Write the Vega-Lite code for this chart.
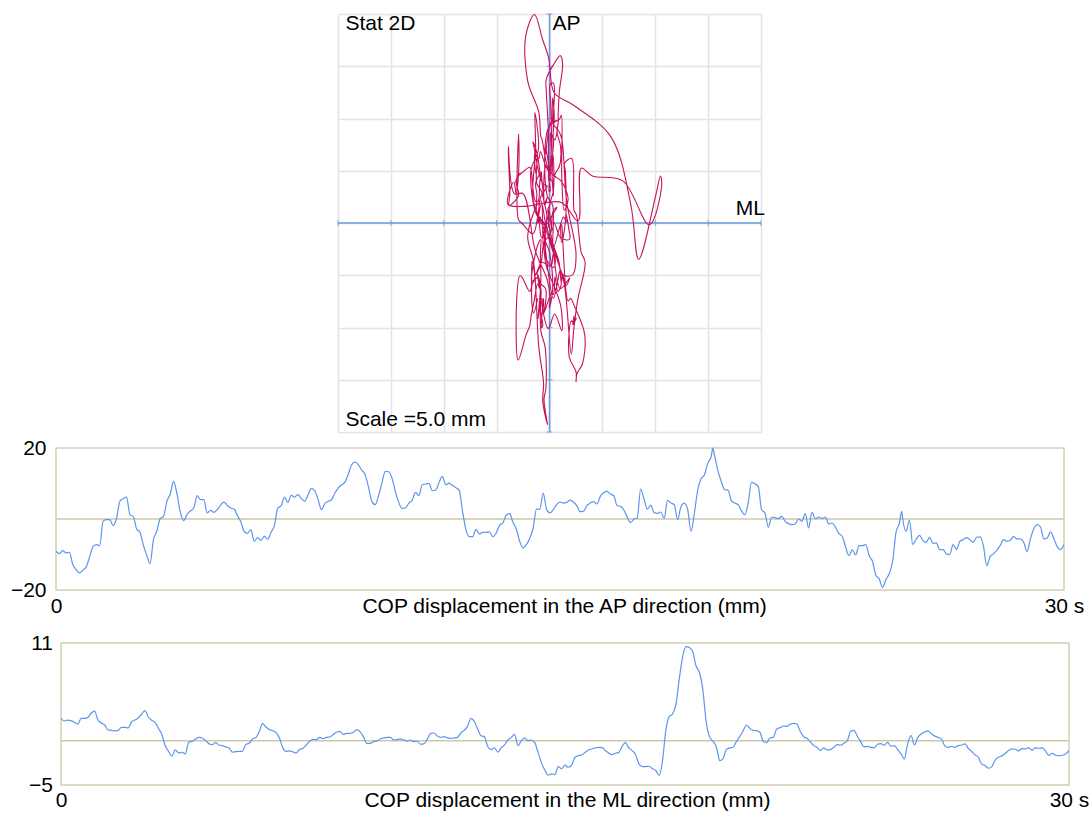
{
  "$schema": "https://vega.github.io/schema/vega-lite/v6.json",
  "padding": {"left": 5, "top": 12, "right": 0, "bottom": 0},
  "background": "white",
  "spacing": 0,
  "config": {
    "view": {"stroke": null},
    "font": "Liberation Sans",
    "axis": {"labelFont": "Liberation Sans", "labelFontSize": 21, "labelColor": "#000000", "titleFont": "Liberation Sans", "titleFontSize": 21, "titleFontWeight": "normal", "titleColor": "#000000"}
  },
  "datasets": {
    "grid": [{"v": -20}, {"v": -15}, {"v": -10}, {"v": -5}, {"v": 0}, {"v": 5}, {"v": 10}, {"v": 15}, {"v": 20}],
    "cop": [
{"t":0.0,"ap":-9.09,"ml":2.55},{"t":0.1,"ap":-9.74,"ml":2.21},{"t":0.2,"ap":-8.90,"ml":2.32},{"t":0.3,"ap":-9.56,"ml":2.25},{"t":0.4,"ap":-9.37,"ml":2.06},{"t":0.5,"ap":-12.83,"ml":1.87},{"t":0.6,"ap":-14.24,"ml":2.51},{"t":0.7,"ap":-15.18,"ml":2.51},{"t":0.8,"ap":-14.43,"ml":2.59},{"t":0.9,"ap":-13.49,"ml":3.11},
{"t":1.0,"ap":-10.68,"ml":3.33},{"t":1.1,"ap":-7.87,"ml":2.32},{"t":1.2,"ap":-7.21,"ml":1.99},{"t":1.3,"ap":-7.49,"ml":1.76},{"t":1.4,"ap":-0.66,"ml":1.20},{"t":1.5,"ap":-0.19,"ml":1.16},{"t":1.6,"ap":-0.19,"ml":1.09},{"t":1.7,"ap":-1.87,"ml":1.16},{"t":1.8,"ap":0.09,"ml":1.50},{"t":1.9,"ap":4.97,"ml":1.50},
{"t":2.0,"ap":5.71,"ml":1.42},{"t":2.1,"ap":6.18,"ml":2.10},{"t":2.2,"ap":1.22,"ml":2.32},{"t":2.3,"ap":0.75,"ml":2.55},{"t":2.4,"ap":-2.81,"ml":3.00},{"t":2.5,"ap":-3.75,"ml":3.37},{"t":2.6,"ap":-7.40,"ml":2.66},{"t":2.7,"ap":-10.21,"ml":2.29},{"t":2.8,"ap":-12.55,"ml":2.06},{"t":2.9,"ap":-5.81,"ml":1.39},
{"t":3.0,"ap":-3.47,"ml":0.71},{"t":3.1,"ap":0.09,"ml":-0.56},{"t":3.2,"ap":0.75,"ml":-1.20},{"t":3.3,"ap":4.97,"ml":-1.76},{"t":3.4,"ap":7.03,"ml":-1.05},{"t":3.5,"ap":10.59,"ml":-1.39},{"t":3.6,"ap":7.12,"ml":-1.31},{"t":3.7,"ap":1.97,"ml":-1.50},{"t":3.8,"ap":-0.47,"ml":-0.19},{"t":3.9,"ap":1.31,"ml":-0.07},
{"t":4.0,"ap":2.25,"ml":0.15},{"t":4.1,"ap":3.09,"ml":0.37},{"t":4.2,"ap":6.56,"ml":0.30},{"t":4.3,"ap":5.43,"ml":0.00},{"t":4.4,"ap":5.43,"ml":-0.34},{"t":4.5,"ap":1.69,"ml":-0.45},{"t":4.6,"ap":2.44,"ml":-0.22},{"t":4.7,"ap":1.87,"ml":-0.49},{"t":4.8,"ap":2.62,"ml":-0.56},{"t":4.9,"ap":3.93,"ml":-0.71},
{"t":5.0,"ap":4.78,"ml":-0.82},{"t":5.1,"ap":3.84,"ml":-1.31},{"t":5.2,"ap":3.09,"ml":-1.24},{"t":5.3,"ap":2.81,"ml":-1.20},{"t":5.4,"ap":0.94,"ml":-1.20},{"t":5.5,"ap":-0.75,"ml":-0.45},{"t":5.6,"ap":-3.47,"ml":-0.30},{"t":5.7,"ap":-4.03,"ml":0.19},{"t":5.8,"ap":-3.00,"ml":0.34},{"t":5.9,"ap":-6.28,"ml":1.01},
{"t":6.0,"ap":-5.25,"ml":1.91},{"t":6.1,"ap":-6.00,"ml":1.54},{"t":6.2,"ap":-4.87,"ml":1.24},{"t":6.3,"ap":-5.71,"ml":1.12},{"t":6.4,"ap":-3.75,"ml":0.90},{"t":6.5,"ap":-1.87,"ml":0.30},{"t":6.6,"ap":3.09,"ml":-0.79},{"t":6.7,"ap":3.75,"ml":-1.20},{"t":6.8,"ap":6.18,"ml":-1.16},{"t":6.9,"ap":4.68,"ml":-1.27},
{"t":7.0,"ap":6.65,"ml":-1.39},{"t":7.1,"ap":6.18,"ml":-1.01},{"t":7.2,"ap":6.84,"ml":-0.86},{"t":7.3,"ap":5.81,"ml":-0.49},{"t":7.4,"ap":4.97,"ml":-0.07},{"t":7.5,"ap":6.74,"ml":0.15},{"t":7.6,"ap":8.62,"ml":0.11},{"t":7.7,"ap":7.96,"ml":0.37},{"t":7.8,"ap":5.53,"ml":0.22},{"t":7.9,"ap":2.62,"ml":0.37},
{"t":8.0,"ap":4.31,"ml":0.41},{"t":8.1,"ap":4.97,"ml":0.67},{"t":8.2,"ap":5.43,"ml":0.94},{"t":8.3,"ap":7.31,"ml":1.05},{"t":8.4,"ap":8.71,"ml":0.71},{"t":8.5,"ap":9.65,"ml":0.82},{"t":8.6,"ap":10.40,"ml":0.82},{"t":8.7,"ap":12.65,"ml":0.94},{"t":8.8,"ap":15.27,"ml":1.24},{"t":8.9,"ap":16.02,"ml":1.01},
{"t":9.0,"ap":15.27,"ml":0.45},{"t":9.1,"ap":13.77,"ml":-0.30},{"t":9.2,"ap":12.55,"ml":-0.30},{"t":9.3,"ap":8.99,"ml":-0.11},{"t":9.4,"ap":4.97,"ml":-0.04},{"t":9.5,"ap":4.03,"ml":0.19},{"t":9.6,"ap":6.56,"ml":0.30},{"t":9.7,"ap":10.12,"ml":0.37},{"t":9.8,"ap":13.40,"ml":0.37},{"t":9.9,"ap":13.30,"ml":0.07},
{"t":10.0,"ap":11.52,"ml":0.11},{"t":10.1,"ap":7.78,"ml":0.19},{"t":10.2,"ap":4.68,"ml":0.07},{"t":10.3,"ap":3.00,"ml":-0.04},{"t":10.4,"ap":3.09,"ml":0.07},{"t":10.5,"ap":4.50,"ml":-0.11},{"t":10.6,"ap":5.25,"ml":-0.07},{"t":10.7,"ap":7.49,"ml":-0.41},{"t":10.8,"ap":6.56,"ml":-0.37},{"t":10.9,"ap":9.65,"ml":0.15},
{"t":11.0,"ap":9.84,"ml":0.82},{"t":11.1,"ap":10.02,"ml":0.86},{"t":11.2,"ap":7.96,"ml":0.52},{"t":11.3,"ap":8.15,"ml":0.37},{"t":11.4,"ap":10.30,"ml":0.45},{"t":11.5,"ap":11.99,"ml":0.30},{"t":11.6,"ap":9.65,"ml":0.26},{"t":11.7,"ap":10.12,"ml":0.30},{"t":11.8,"ap":9.46,"ml":0.37},{"t":11.9,"ap":8.81,"ml":0.86},
{"t":12.0,"ap":8.06,"ml":1.16},{"t":12.1,"ap":2.15,"ml":1.61},{"t":12.2,"ap":-3.00,"ml":2.51},{"t":12.3,"ap":-4.97,"ml":2.17},{"t":12.4,"ap":-4.97,"ml":1.31},{"t":12.5,"ap":-2.90,"ml":0.56},{"t":12.6,"ap":-4.22,"ml":0.45},{"t":12.7,"ap":-3.75,"ml":-0.67},{"t":12.8,"ap":-3.75,"ml":-1.01},{"t":12.9,"ap":-3.65,"ml":-0.82},
{"t":13.0,"ap":-4.97,"ml":-1.31},{"t":13.1,"ap":-3.93,"ml":-0.82},{"t":13.2,"ap":-1.78,"ml":-0.49},{"t":13.3,"ap":-1.12,"ml":0.07},{"t":13.4,"ap":1.12,"ml":0.34},{"t":13.5,"ap":1.50,"ml":0.71},{"t":13.6,"ap":-0.94,"ml":-0.56},{"t":13.7,"ap":-2.81,"ml":0.00},{"t":13.8,"ap":-6.28,"ml":0.30},{"t":13.9,"ap":-8.15,"ml":0.00},
{"t":14.0,"ap":-7.21,"ml":0.07},{"t":14.1,"ap":-5.43,"ml":-0.22},{"t":14.2,"ap":-2.62,"ml":-1.35},{"t":14.3,"ap":2.81,"ml":-2.51},{"t":14.4,"ap":2.81,"ml":-3.33},{"t":14.5,"ap":7.31,"ml":-3.90},{"t":14.6,"ap":2.81,"ml":-3.75},{"t":14.7,"ap":1.69,"ml":-3.82},{"t":14.8,"ap":2.62,"ml":-2.92},{"t":14.9,"ap":4.03,"ml":-3.18},
{"t":15.0,"ap":4.78,"ml":-2.77},{"t":15.1,"ap":4.50,"ml":-3.00},{"t":15.2,"ap":4.68,"ml":-2.74},{"t":15.3,"ap":5.34,"ml":-1.87},{"t":15.4,"ap":4.78,"ml":-1.69},{"t":15.5,"ap":3.75,"ml":-1.61},{"t":15.6,"ap":2.06,"ml":-1.31},{"t":15.7,"ap":2.15,"ml":-1.05},{"t":15.8,"ap":3.75,"ml":-0.94},{"t":15.9,"ap":4.50,"ml":-0.82},
{"t":16.0,"ap":4.87,"ml":-0.75},{"t":16.1,"ap":4.22,"ml":-0.79},{"t":16.2,"ap":6.37,"ml":-1.12},{"t":16.3,"ap":7.40,"ml":-1.39},{"t":16.4,"ap":7.78,"ml":-1.57},{"t":16.5,"ap":7.03,"ml":-1.42},{"t":16.6,"ap":6.56,"ml":-1.35},{"t":16.7,"ap":3.75,"ml":-0.64},{"t":16.8,"ap":3.56,"ml":-0.22},{"t":16.9,"ap":2.53,"ml":-0.82},
{"t":17.0,"ap":0.56,"ml":-1.12},{"t":17.1,"ap":-1.03,"ml":-1.57},{"t":17.2,"ap":0.00,"ml":-2.62},{"t":17.3,"ap":0.28,"ml":-2.92},{"t":17.4,"ap":8.52,"ml":-2.92},{"t":17.5,"ap":5.62,"ml":-2.89},{"t":17.6,"ap":2.81,"ml":-3.15},{"t":17.7,"ap":3.93,"ml":-3.37},{"t":17.8,"ap":1.78,"ml":-3.93},{"t":17.9,"ap":1.59,"ml":-2.32},
{"t":18.0,"ap":1.97,"ml":1.12},{"t":18.1,"ap":0.19,"ml":2.70},{"t":18.2,"ap":5.25,"ml":3.00},{"t":18.3,"ap":4.50,"ml":4.05},{"t":18.4,"ap":4.03,"ml":6.93},{"t":18.5,"ap":-0.19,"ml":9.44},{"t":18.6,"ap":3.47,"ml":10.60},{"t":18.7,"ap":4.50,"ml":10.49},{"t":18.8,"ap":2.62,"ml":10.04},{"t":18.9,"ap":-3.47,"ml":8.43},
{"t":19.0,"ap":1.69,"ml":7.70},{"t":19.1,"ap":8.24,"ml":5.81},{"t":19.2,"ap":11.34,"ml":2.17},{"t":19.3,"ap":12.46,"ml":0.45},{"t":19.4,"ap":15.74,"ml":-0.07},{"t":19.5,"ap":17.61,"ml":-0.67},{"t":19.55,"ap":19.95,"ml":-1.42},{"t":19.6,"ap":17.89,"ml":-2.25},{"t":19.7,"ap":13.58,"ml":-2.06},{"t":19.8,"ap":10.59,"ml":-1.01},{"t":19.9,"ap":8.24,"ml":-0.82},
{"t":20.0,"ap":8.15,"ml":-0.75},{"t":20.1,"ap":5.15,"ml":-0.11},{"t":20.2,"ap":4.50,"ml":0.45},{"t":20.3,"ap":4.03,"ml":1.09},{"t":20.4,"ap":2.34,"ml":1.76},{"t":20.5,"ap":1.22,"ml":1.39},{"t":20.6,"ap":4.50,"ml":1.16},{"t":20.7,"ap":10.30,"ml":1.12},{"t":20.8,"ap":9.93,"ml":0.94},{"t":20.9,"ap":9.18,"ml":-0.07},
{"t":21.0,"ap":2.62,"ml":-0.22},{"t":21.1,"ap":1.69,"ml":0.30},{"t":21.2,"ap":-2.34,"ml":0.37},{"t":21.3,"ap":0.56,"ml":1.31},{"t":21.4,"ap":0.37,"ml":1.46},{"t":21.5,"ap":0.09,"ml":1.65},{"t":21.6,"ap":0.75,"ml":1.61},{"t":21.7,"ap":-0.66,"ml":1.84},{"t":21.8,"ap":-1.31,"ml":1.95},{"t":21.9,"ap":-1.59,"ml":1.87},
{"t":22.0,"ap":-1.41,"ml":1.05},{"t":22.1,"ap":0.00,"ml":0.45},{"t":22.2,"ap":-0.66,"ml":0.26},{"t":22.3,"ap":1.50,"ml":-0.11},{"t":22.4,"ap":-2.53,"ml":-0.56},{"t":22.5,"ap":1.87,"ml":-0.75},{"t":22.6,"ap":0.00,"ml":-1.12},{"t":22.7,"ap":0.56,"ml":-0.82},{"t":22.8,"ap":0.19,"ml":-1.05},{"t":22.9,"ap":0.56,"ml":-1.01},
{"t":23.0,"ap":-1.41,"ml":-0.75},{"t":23.1,"ap":-1.12,"ml":-0.45},{"t":23.2,"ap":-2.34,"ml":-0.52},{"t":23.3,"ap":-4.12,"ml":-0.30},{"t":23.4,"ap":-4.87,"ml":-0.04},{"t":23.5,"ap":-7.87,"ml":1.05},{"t":23.6,"ap":-10.30,"ml":1.16},{"t":23.7,"ap":-8.71,"ml":0.49},{"t":23.8,"ap":-10.12,"ml":-0.11},{"t":23.9,"ap":-7.49,"ml":-0.71},
{"t":24.0,"ap":-7.49,"ml":-0.64},{"t":24.1,"ap":-7.21,"ml":-0.75},{"t":24.2,"ap":-10.30,"ml":-0.82},{"t":24.3,"ap":-11.90,"ml":-0.41},{"t":24.4,"ap":-15.83,"ml":-0.34},{"t":24.5,"ap":-16.86,"ml":-0.52},{"t":24.6,"ap":-19.30,"ml":-0.19},{"t":24.7,"ap":-17.05,"ml":-0.64},{"t":24.8,"ap":-15.36,"ml":-0.56},{"t":24.9,"ap":-11.90,"ml":-1.01},
{"t":25.0,"ap":-3.75,"ml":-1.50},{"t":25.1,"ap":-1.22,"ml":-2.06},{"t":25.17,"ap":2.15,"ml":-0.86},{"t":25.2,"ap":0.00,"ml":-0.37},{"t":25.3,"ap":-3.47,"ml":0.56},{"t":25.4,"ap":-0.37,"ml":-0.49},{"t":25.5,"ap":-7.21,"ml":0.37},{"t":25.6,"ap":-5.71,"ml":0.75},{"t":25.7,"ap":-4.59,"ml":0.97},{"t":25.8,"ap":-6.00,"ml":1.09},{"t":25.9,"ap":-6.56,"ml":0.79},
{"t":26.0,"ap":-5.15,"ml":0.52},{"t":26.1,"ap":-6.84,"ml":0.37},{"t":26.2,"ap":-6.74,"ml":0.19},{"t":26.3,"ap":-8.62,"ml":-0.56},{"t":26.4,"ap":-8.62,"ml":-0.75},{"t":26.5,"ap":-9.84,"ml":-0.64},{"t":26.6,"ap":-10.02,"ml":-0.75},{"t":26.7,"ap":-7.21,"ml":-0.56},{"t":26.8,"ap":-8.62,"ml":-0.52},{"t":26.9,"ap":-6.28,"ml":-0.37},
{"t":27.0,"ap":-5.81,"ml":-0.86},{"t":27.1,"ap":-5.25,"ml":-1.20},{"t":27.2,"ap":-5.81,"ml":-1.61},{"t":27.3,"ap":-6.56,"ml":-1.87},{"t":27.4,"ap":-5.15,"ml":-2.62},{"t":27.5,"ap":-5.06,"ml":-2.81},{"t":27.6,"ap":-7.49,"ml":-3.11},{"t":27.7,"ap":-13.12,"ml":-2.96},{"t":27.8,"ap":-10.68,"ml":-2.21},{"t":27.9,"ap":-9.84,"ml":-1.87},
{"t":28.0,"ap":-8.81,"ml":-1.72},{"t":28.1,"ap":-7.49,"ml":-1.46},{"t":28.2,"ap":-5.81,"ml":-1.12},{"t":28.3,"ap":-6.28,"ml":-0.94},{"t":28.4,"ap":-6.00,"ml":-0.97},{"t":28.5,"ap":-4.87,"ml":-1.16},{"t":28.6,"ap":-5.62,"ml":-0.90},{"t":28.7,"ap":-5.62,"ml":-0.94},{"t":28.8,"ap":-6.56,"ml":-0.79},{"t":28.9,"ap":-9.18,"ml":-1.09},
{"t":29.0,"ap":-5.62,"ml":-0.82},{"t":29.1,"ap":-2.81,"ml":-0.86},{"t":29.2,"ap":-1.59,"ml":-0.82},{"t":29.3,"ap":-2.25,"ml":-1.16},{"t":29.4,"ap":-5.62,"ml":-1.69},{"t":29.5,"ap":-5.34,"ml":-1.42},{"t":29.6,"ap":-3.65,"ml":-1.65},{"t":29.7,"ap":-5.53,"ml":-1.69},{"t":29.8,"ap":-7.87,"ml":-1.65},{"t":29.9,"ap":-8.62,"ml":-1.50},
{"t":30.0,"ap":-7.21,"ml":-1.12}
    ]
  },
  "vconcat": [
    {"spacing": 0, "hconcat": [
    {"width": 332, "height": 1, "data": {"values": [{}]}, "mark": {"type": "rect", "opacity": 0}},
    {
      "width": 423,
      "height": 418,
      "layer": [
        {
          "data": {"values": [{}]},
          "mark": {"type": "rule", "color": "#6b9ad8", "strokeWidth": 1.5},
          "encoding": {"y": {"datum": 0, "type": "quantitative", "scale": {"domain": [-20, 20], "nice": false, "zero": false}, "axis": {"values": [-20, -15, -10, -5, 0, 5, 10, 15, 20], "grid": true, "gridColor": "#e3e3e3", "gridWidth": 1.5, "labels": false, "ticks": false, "domain": false, "title": null, "minExtent": 0, "maxExtent": 0}}}
        },
        {
          "data": {"values": [{}]},
          "mark": {"type": "rule", "color": "#6b9ad8", "strokeWidth": 1.5},
          "encoding": {"x": {"datum": 0, "type": "quantitative", "scale": {"domain": [-20, 20], "nice": false, "zero": false}, "axis": {"values": [-20, -15, -10, -5, 0, 5, 10, 15, 20], "grid": true, "gridColor": "#e3e3e3", "gridWidth": 1.5, "labels": false, "ticks": false, "domain": false, "title": null, "minExtent": 4, "maxExtent": 4}}}
        },
        {
          "data": {"name": "grid"},
          "mark": {"type": "tick", "orient": "vertical", "size": 6, "thickness": 1.2, "color": "#6b9ad8"},
          "encoding": {"x": {"field": "v", "type": "quantitative"}, "y": {"datum": 0, "type": "quantitative"}}
        },
        {
          "data": {"name": "grid"},
          "mark": {"type": "tick", "orient": "horizontal", "size": 6, "thickness": 1.2, "color": "#6b9ad8"},
          "encoding": {"y": {"field": "v", "type": "quantitative"}, "x": {"datum": 0, "type": "quantitative"}}
        },
        {
          "data": {"name": "cop"},
          "mark": {"type": "line", "color": "#c8105c", "strokeWidth": 1.1, "interpolate": "catmull-rom", "clip": true},
          "encoding": {
            "x": {"field": "ml", "type": "quantitative"},
            "y": {"field": "ap", "type": "quantitative"},
            "order": {"field": "t", "type": "quantitative"}
          }
        },
        {
          "data": {"values": [{}]},
          "mark": {"type": "text", "text": "Stat 2D", "align": "left", "baseline": "alphabetic", "fontSize": 21, "font": "Liberation Sans", "color": "#000000"},
          "encoding": {"x": {"datum": -19.3, "type": "quantitative"}, "y": {"datum": 18.5, "type": "quantitative"}}
        },
        {
          "data": {"values": [{}]},
          "mark": {"type": "text", "text": "AP", "align": "left", "baseline": "alphabetic", "dx": 3, "fontSize": 21, "font": "Liberation Sans", "color": "#000000"},
          "encoding": {"x": {"datum": 0, "type": "quantitative"}, "y": {"datum": 18.45, "type": "quantitative"}}
        },
        {
          "data": {"values": [{}]},
          "mark": {"type": "text", "text": "ML", "align": "right", "baseline": "alphabetic", "dx": 4, "fontSize": 21, "font": "Liberation Sans", "color": "#000000"},
          "encoding": {"x": {"datum": 20, "type": "quantitative"}, "y": {"datum": 0.75, "type": "quantitative"}}
        },
        {
          "data": {"values": [{}]},
          "mark": {"type": "text", "text": "Scale =5.0 mm", "align": "left", "baseline": "alphabetic", "fontSize": 21, "font": "Liberation Sans", "color": "#000000"},
          "encoding": {"x": {"datum": -19.3, "type": "quantitative"}, "y": {"datum": -19.4, "type": "quantitative"}}
        }
      ]
    }]},
    {"spacing": 0, "hconcat": [
    {"width": 1, "height": 1, "data": {"values": [{}]}, "mark": {"type": "rect", "opacity": 0}},
    {
      "width": 1008,
      "height": 142,
      "view": {"stroke": "#d3cfb3", "strokeWidth": 1.5},
      "layer": [
        {
          "data": {"values": [{}]},
          "mark": {"type": "rule", "color": "#cdc9a8", "strokeWidth": 1.5},
          "encoding": {"y": {"datum": 0, "type": "quantitative"}}
        },
        {
          "data": {"name": "cop"},
          "mark": {"type": "line", "color": "#5d95ee", "strokeWidth": 1.2, "interpolate": "monotone"},
          "encoding": {
            "x": {"field": "t", "type": "quantitative", "scale": {"domain": [0, 30], "nice": false, "zero": false},
              "axis": {"values": [0, 30], "labelExpr": "datum.value == 30 ? '30 s' : datum.label", "labelFlush": false, "labelBaseline": "alphabetic", "labelPadding": 22.5, "ticks": false, "domain": false, "grid": false, "title": "COP displacement in the AP direction (mm)", "titleY": 22, "titleX": 508, "titleBaseline": "alphabetic", "minExtent": 39.7, "maxExtent": 39.7}},
            "y": {"field": "ap", "type": "quantitative", "scale": {"domain": [-20, 20], "nice": false, "zero": false},
              "axis": {"values": [-20, 20], "labelPadding": 10, "ticks": false, "domain": false, "grid": false, "title": null, "minExtent": 48.5, "maxExtent": 48.5}}
          }
        }
      ]
    }]},
    {"spacing": 0, "hconcat": [
    {"width": 1, "height": 1, "data": {"values": [{}]}, "mark": {"type": "rect", "opacity": 0}},
    {
      "width": 1008,
      "height": 142,
      "view": {"stroke": "#d3cfb3", "strokeWidth": 1.5},
      "layer": [
        {
          "data": {"values": [{}]},
          "mark": {"type": "rule", "color": "#cdc9a8", "strokeWidth": 1.5},
          "encoding": {"y": {"datum": 0, "type": "quantitative"}}
        },
        {
          "data": {"name": "cop"},
          "mark": {"type": "line", "color": "#5d95ee", "strokeWidth": 1.2, "interpolate": "monotone"},
          "encoding": {
            "x": {"field": "t", "type": "quantitative", "scale": {"domain": [0, 30], "nice": false, "zero": false},
              "axis": {"values": [0, 30], "labelExpr": "datum.value == 30 ? '30 s' : datum.label", "labelFlush": false, "labelBaseline": "alphabetic", "labelPadding": 21.5, "ticks": false, "domain": false, "grid": false, "title": "COP displacement in the ML direction (mm)", "titleY": 21.5, "titleX": 506, "titleBaseline": "alphabetic", "minExtent": 24, "maxExtent": 24}},
            "y": {"field": "ml", "type": "quantitative", "scale": {"domain": [-5, 11], "nice": false, "zero": false},
              "axis": {"values": [-5, 11], "labelPadding": 8.5, "ticks": false, "domain": false, "grid": false, "title": null, "minExtent": 53.3, "maxExtent": 53.3}}
          }
        }
      ]
    }]}
  ]
}
